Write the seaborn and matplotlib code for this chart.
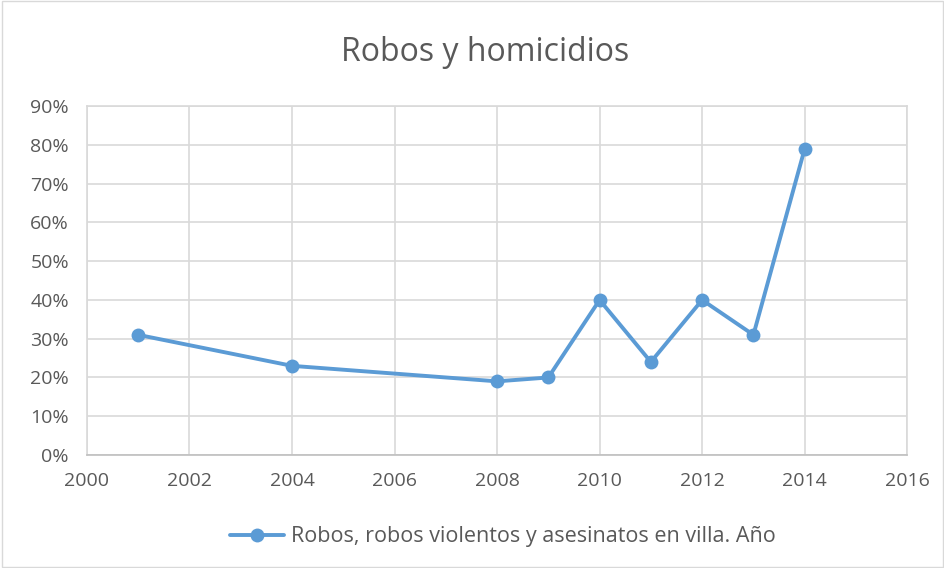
import pandas as pd
import matplotlib.pyplot as plt
import seaborn as sns
from matplotlib.ticker import PercentFormatter

# Data
years = [2001, 2004, 2008, 2009, 2010, 2011, 2012, 2013, 2014]
values = [0.31, 0.23, 0.19, 0.20, 0.40, 0.24, 0.40, 0.31, 0.79]
series_name = "Robos, robos violentos y asesinatos en villa. Año"

df = pd.DataFrame({"anio": years, "valor": values, "serie": series_name})

sns.set_style("white")
plt.rcParams["font.family"] = ["Open Sans", "DejaVu Sans"]

fig = plt.figure(figsize=(9.45, 5.68), dpi=100)
ax = fig.add_axes([0.092, 0.199, 0.868, 0.614])

blue = "#5B9BD5"
text_grey = "#595959"

sns.lineplot(
    data=df, x="anio", y="valor", hue="serie", palette=[blue],
    marker="o", markersize=10, markeredgewidth=0, linewidth=2.8, ax=ax,
)

ax.set_xlim(2000, 2016)
ax.set_ylim(0, 0.9)
ax.set_xticks(range(2000, 2017, 2))
ax.set_yticks([i / 10 for i in range(10)])
ax.yaxis.set_major_formatter(PercentFormatter(1.0, decimals=0))
ax.grid(True, color="#D9D9D9", linewidth=1.2)
ax.set_axisbelow(True)
for s in ax.spines.values():
    s.set_color("#D9D9D9")
    s.set_linewidth(1.2)
ax.spines["bottom"].set_color("#BFBFBF")
ax.tick_params(axis="both", length=0, labelsize=14, labelcolor=text_grey)
ax.tick_params(axis="x", pad=12)
ax.tick_params(axis="y", pad=13)
ax.set_xlabel("")
ax.set_ylabel("")

fig.text(0.513, 0.908, "Robos y homicidios", ha="center", va="center",
         fontsize=23, color=text_grey)

ax.legend(
    loc="center", bbox_to_anchor=(0.507, -0.235), frameon=False,
    fontsize=15.5, labelcolor=text_grey, handlelength=2.5, handletextpad=0.3,
)

# outer chart border
fig.patches.append(plt.Rectangle((0.002, 0.002), 0.996, 0.996, transform=fig.transFigure,
                                 fill=False, edgecolor="#D9D9D9", linewidth=1))

fig.savefig("out.png", dpi=100)
